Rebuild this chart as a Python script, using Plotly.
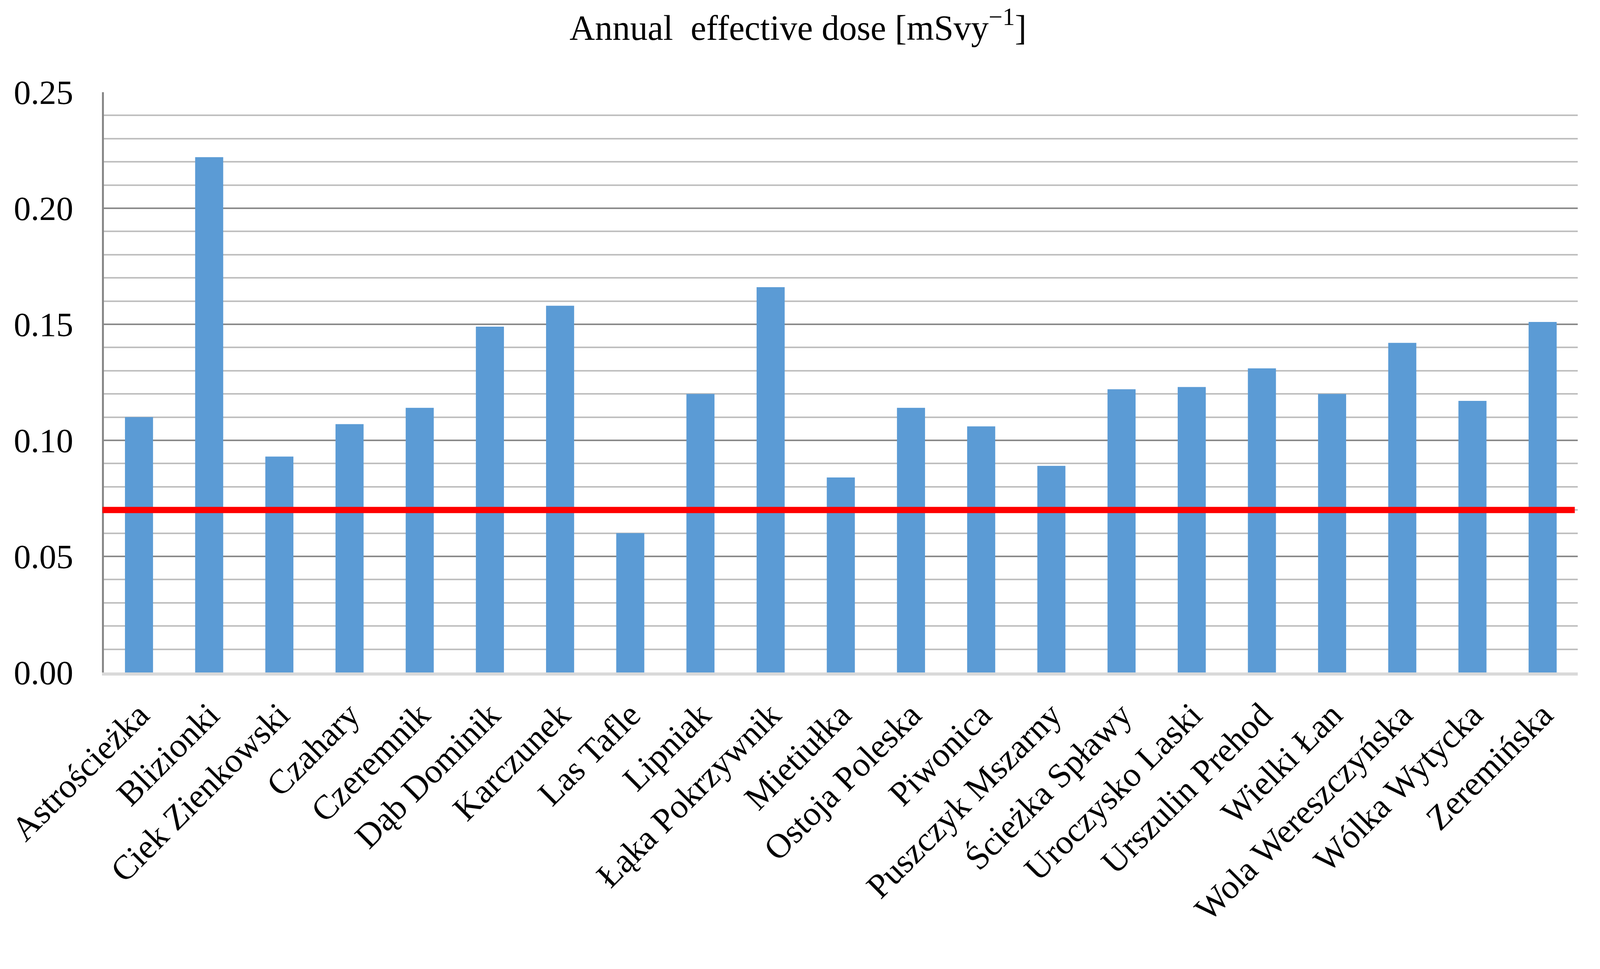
import plotly.graph_objects as go

sites = ["Astrościeżka", "Blizionki", "Ciek Zienkowski", "Czahary", "Czeremnik",
         "Dąb Dominik", "Karczunek", "Las Tafle", "Lipniak", "Łąka Pokrzywnik",
         "Mietiułka", "Ostoja Poleska", "Piwonica", "Puszczyk Mszarny",
         "Ścieżka Spławy", "Uroczysko Laski", "Urszulin Prehod", "Wielki Łan",
         "Wola Wereszczyńska", "Wólka Wytycka", "Zeremińska"]
dose = [0.110, 0.222, 0.093, 0.107, 0.114,
        0.149, 0.158, 0.060, 0.120, 0.166,
        0.084, 0.114, 0.106, 0.089,
        0.122, 0.123, 0.131, 0.120,
        0.142, 0.117, 0.151]
threshold = 0.07
y_ticks = [0.00, 0.05, 0.10, 0.15, 0.20, 0.25]
y_tick_labels = ["0.00", "0.05", "0.10", "0.15", "0.20", "0.25"]

FONT = "Liberation Serif, Times New Roman, serif"

W, H = 4070, 2380
L, T = 258, 228
PLOT_R, PLOT_B = 4031, 1713

fig = go.Figure()
fig.add_trace(go.Bar(x=sites, y=dose, marker=dict(color="#5B9BD5", line=dict(width=0)),
                     showlegend=False))

fig.add_shape(type="line", xref="paper", x0=-0.001, x1=0.998, yref="y",
              y0=threshold, y1=threshold, line=dict(color="#FF0000", width=16), layer="above")

fig.update_layout(
    width=W, height=H,
    margin=dict(l=L, r=W - PLOT_R, t=T, b=H - PLOT_B, pad=0),
    paper_bgcolor="white", plot_bgcolor="white",
    bargap=0.6,
    font=dict(family=FONT, color="black", size=85),
    title=dict(text="Annual\u00a0 effective dose [mSvy<sup>\u22121</sup>]",
               x=0.5, xanchor="center", y=0.987, yanchor="top",
               font=dict(family=FONT, size=90, color="black")),
)
fig.update_xaxes(
    tickangle=-45, tickfont=dict(family=FONT, size=88, color="black"),
    showline=True, linecolor="#D9D9D9", linewidth=8,
    showgrid=False, ticks="", automargin=False, ticklabelstandoff=14,
)
fig.update_yaxes(
    range=[0, 0.25], tickvals=y_ticks, ticktext=y_tick_labels,
    tickfont=dict(family=FONT, size=87, color="black"),
    showline=True, linecolor="#878787", linewidth=5,
    showgrid=True, gridcolor="#8A8A8A", gridwidth=4,
    minor=dict(dtick=0.01, showgrid=True, gridcolor="#BFBFBF", gridwidth=4),
    zeroline=False, ticks="", automargin=False, ticklabelstandoff=56,
)

fig.write_html("out.html")
